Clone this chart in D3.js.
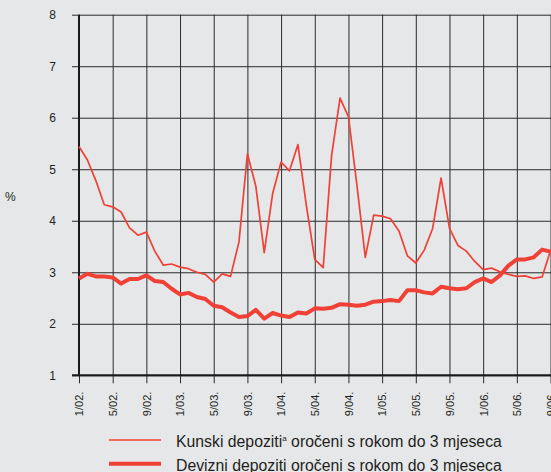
<!DOCTYPE html>
<html>
<head>
<meta charset="utf-8">
<script src="https://cdn.jsdelivr.net/npm/d3@7/dist/d3.min.js"></script>
<style>
  body { margin: 0; background: #e6e7e9; }
  svg { display: block; background: #e6e7e9; }
  svg text { font-family: "Liberation Sans", Arial, sans-serif; }
  .grid line { stroke: #2b2b2b; stroke-width: 1; }
  .grid path { display: none; }
  .axis text { fill: #231f20; }
</style>
</head>
<body>
<div id="chart"></div>
<script>
// ==========================================================
// DATA
// ==========================================================

var tickLabels = ["1/02.", "5/02.", "9/02.", "1/03.", "5/03.", "9/03.", "1/04.", "5/04.",
  "9/04.", "1/05.", "5/05.", "9/05.", "1/06.", "5/06.", "9/06."];

// monthly, 1/02. to 9/06.
var kunski = [5.44, 5.18, 4.78, 4.31, 4.27, 4.17, 3.86, 3.72, 3.78, 3.41,
  3.14, 3.16, 3.10, 3.07, 3.00, 2.96, 2.81, 2.97, 2.92, 3.59,
  5.30, 4.67, 3.38, 4.53, 5.14, 4.97, 5.48, 4.30, 3.25, 3.09,
  5.27, 6.38, 6.02, 4.70, 3.29, 4.11, 4.09, 4.04, 3.80, 3.32,
  3.18, 3.43, 3.85, 4.83, 3.85, 3.52, 3.41, 3.21, 3.05, 3.08,
  3.01, 2.96, 2.92, 2.93, 2.88, 2.91, 3.42];

var devizni = [2.88, 2.97, 2.92, 2.92, 2.90, 2.78, 2.87, 2.87, 2.94, 2.83,
  2.81, 2.68, 2.57, 2.60, 2.52, 2.48, 2.35, 2.32, 2.22, 2.13,
  2.15, 2.27, 2.10, 2.21, 2.16, 2.13, 2.22, 2.20, 2.30, 2.29,
  2.31, 2.38, 2.37, 2.35, 2.37, 2.43, 2.44, 2.46, 2.44, 2.65,
  2.65, 2.61, 2.59, 2.72, 2.69, 2.67, 2.69, 2.81, 2.88, 2.81,
  2.94, 3.13, 3.25, 3.25, 3.29, 3.44, 3.40];

var yTicks = [1, 2, 3, 4, 5, 6, 7, 8];

var legendItems = [
  { text: "Kunski depoziti", sup: "a", rest: " oročeni s rokom do 3 mjeseca", width: 1.7 },
  { text: "Devizni depoziti oročeni s rokom do 3 mjeseca", sup: null, rest: "", width: 4 }
];

// ==========================================================
// SIZES
// ==========================================================

var svgWidth = 551;
var svgHeight = 472;
var margin = { top: 14.7, left: 79 };
var plotRight = 79 + 56 * 8.42;
var plotBottom = 375.3;
var red = "#ef4136";

var svg = d3.select("#chart").append("svg")
  .attr("width", svgWidth)
  .attr("height", svgHeight);

var x = d3.scaleLinear().domain([0, 56]).range([margin.left, plotRight]);
var y = d3.scaleLinear().domain([1, 8]).range([plotBottom, margin.top]);

var xTickValues = tickLabels.map((d, i) => i * 4);

// ==========================================================
// GRID
// ==========================================================

svg.append("g")
  .attr("class", "grid")
  .attr("transform", `translate(${margin.left - 7}, 0)`)
  .call(d3.axisLeft(y).tickValues(yTicks).tickSize(-(svgWidth - margin.left + 10)).tickFormat(""))
  .selectAll("line").attr("x1", 0);

svg.append("g")
  .attr("class", "grid")
  .attr("transform", `translate(0, ${plotBottom + 8})`)
  .call(d3.axisBottom(x).tickValues(xTickValues).tickSize(-(plotBottom + 8 - margin.top)).tickFormat(""));

// ==========================================================
// AXES
// ==========================================================

var yAxis = svg.append("g")
  .attr("class", "axis")
  .attr("transform", `translate(${margin.left}, 0)`)
  .call(d3.axisLeft(y).tickValues(yTicks).tickSize(0).tickPadding(23).tickFormat(d3.format("d")));
yAxis.select(".domain").remove();
yAxis.selectAll("text").style("font-size", "12px");

var xAxis = svg.append("g")
  .attr("class", "axis")
  .attr("transform", `translate(0, ${plotBottom})`)
  .call(d3.axisBottom(x).tickValues(xTickValues).tickSize(0).tickFormat((d, i) => tickLabels[i]));
xAxis.select(".domain").remove();
xAxis.selectAll("text")
  .style("font-size", "11px")
  .style("text-anchor", "end")
  .attr("transform", "rotate(-90)")
  .attr("x", -16.4)
  .attr("y", 0)
  .attr("dy", "0.35em");

// heavy axis lines
svg.append("line")
  .attr("x1", margin.left).attr("x2", margin.left)
  .attr("y1", margin.top).attr("y2", plotBottom)
  .attr("stroke", "#1a1a1a").attr("stroke-width", 2);
svg.append("line")
  .attr("x1", margin.left - 7).attr("x2", svgWidth)
  .attr("y1", plotBottom).attr("y2", plotBottom)
  .attr("stroke", "#1a1a1a").attr("stroke-width", 2);

svg.append("text")
  .attr("x", 5).attr("y", 201)
  .style("font-size", "12px")
  .attr("fill", "#231f20")
  .text("%");

// ==========================================================
// LINES
// ==========================================================

var line = d3.line()
  .x((d, i) => x(i))
  .y(d => y(d));

svg.append("path")
  .datum(kunski)
  .attr("fill", "none")
  .attr("stroke", red)
  .attr("stroke-width", 1.7)
  .attr("stroke-linejoin", "round")
  .attr("d", line);

svg.append("path")
  .datum(devizni)
  .attr("fill", "none")
  .attr("stroke", red)
  .attr("stroke-width", 4)
  .attr("stroke-linejoin", "round")
  .attr("d", line);

// ==========================================================
// LEGEND
// ==========================================================

var legend = svg.append("g");

legendItems.forEach((d, i) => {
  var ly = 440 + i * 23.7;
  legend.append("line")
    .attr("x1", 109).attr("x2", 161)
    .attr("y1", ly).attr("y2", ly)
    .attr("stroke", red)
    .attr("stroke-width", d.width);
  var t = legend.append("text")
    .attr("x", 176).attr("y", ly + 7.3)
    .attr("fill", "#231f20")
    .style("font-size", "15.8px");
  t.append("tspan").text(d.text);
  if (d.sup) {
    t.append("tspan").attr("dy", -6).style("font-size", "8px").text(d.sup);
    t.append("tspan").attr("dy", 6).text(d.rest);
  }
});
</script>
</body>
</html>
